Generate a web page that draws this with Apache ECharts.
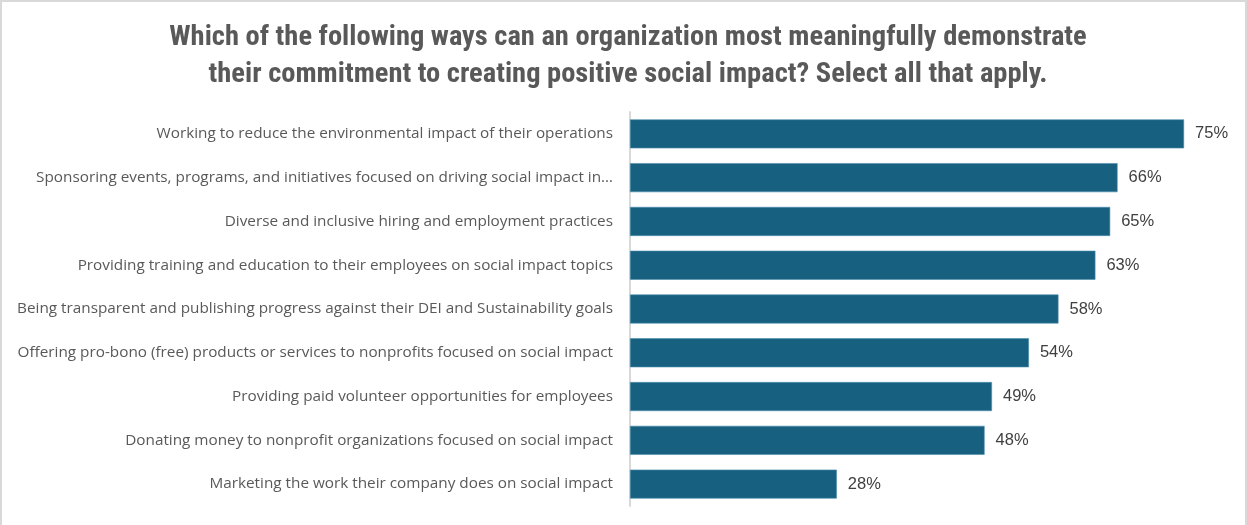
<!DOCTYPE html>
<html>
<head>
<meta charset="utf-8">
<script src="https://cdn.jsdelivr.net/npm/echarts@6/dist/echarts.min.js"></script>
<style>
  html, body { margin: 0; padding: 0; background: #fff; }
  #frame {
    position: absolute; left: 0; top: 0; width: 1247px; height: 525px;
    border-top: 2px solid #d9d9d9; border-left: 2px solid #d9d9d9; border-right: 2px solid #d9d9d9;
    box-sizing: border-box;
  }
  #chart { position: absolute; left: 0; top: 0; width: 1247px; height: 525px; }
</style>
</head>
<body>
<div id="frame"></div>
<div id="chart"></div>
<script>
// Survey answers, listed top to bottom as shown
const categories = [
  'Working to reduce the environmental impact of their operations',
  'Sponsoring events, programs, and initiatives focused on driving social impact in\u2026',
  'Diverse and inclusive hiring and employment practices',
  'Providing training and education to their employees on social impact topics',
  'Being transparent and publishing progress against their DEI and Sustainability goals',
  'Offering pro-bono (free) products or services to nonprofits focused on social impact',
  'Providing paid volunteer opportunities for employees',
  'Donating money to nonprofit organizations focused on social impact',
  'Marketing the work their company does on social impact'
];
const shares = [75, 66, 65, 63, 58, 54, 49, 48, 28];

const titleText = 'Which of the following ways can an organization most meaningfully demonstrate\ntheir commitment to creating positive social impact? Select all that apply.';

const chart = echarts.init(document.getElementById('chart'), null, { renderer: 'canvas' });
chart.setOption({
  backgroundColor: 'transparent',
  animation: false,
  title: {
    text: titleText,
    left: 623,
    top: 14,
    textAlign: 'center',
    textStyle: {
      fontFamily: '"Liberation Sans Narrow", "Roboto Condensed", "DejaVu Sans Condensed", sans-serif',
      fontWeight: 'bold',
      fontSize: 28.5,
      lineHeight: 37,
      color: '#595959'
    }
  },
  grid: { left: 630, top: 112, width: 591, height: 394, containLabel: false },
  xAxis: {
    type: 'value',
    min: 0,
    max: 80,
    show: false
  },
  yAxis: {
    type: 'category',
    inverse: true,
    data: categories,
    axisLine: { show: true, lineStyle: { color: '#d9d9d9', width: 2 } },
    axisTick: { show: false },
    axisLabel: {
      margin: 17,
      fontFamily: '"Open Sans", "Noto Sans", sans-serif',
      fontSize: 15.3,
      color: '#595959'
    }
  },
  series: [{
    type: 'bar',
    data: shares,
    barWidth: 29,
    itemStyle: { color: '#17607f', borderColor: '#4d8fae', borderWidth: 0.6 },
    label: {
      show: true,
      position: 'right',
      distance: 11,
      formatter: p => p.value + '%',
      fontFamily: '"Liberation Sans", Arial, sans-serif',
      fontSize: 16.5,
      color: '#404040'
    }
  }]
});
</script>
</body>
</html>
